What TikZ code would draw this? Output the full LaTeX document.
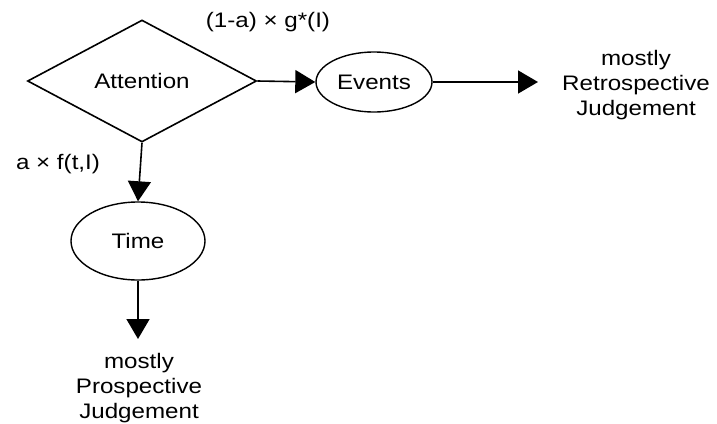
\documentclass[tikz,border=0pt]{standalone}
\usepackage{fontspec}
\setmainfont{Liberation Sans}[FakeStretch=1.15]
\usetikzlibrary{shapes.geometric,arrows.meta}
\begin{document}
\begin{tikzpicture}[x=1pt,y=-1pt,
  every node/.style={font=\fontsize{21}{25}\selectfont, inner sep=0pt},
  flow/.style={line width=1.6pt, -{Triangle[length=20pt,width=23pt]}},
  oval/.style={ellipse, draw, line width=1.4pt},
  decision/.style={diamond, draw, line width=1.6pt},
  result/.style={align=center}]
\useasboundingbox (0,0) rectangle (717,423);

% decision and the two process ovals
\node[decision, minimum width=229pt, minimum height=122pt] (att) at (142,81) {Attention};
\node[oval, minimum width=116pt, minimum height=60pt] (ev) at (374,82) {Events};
\node[oval, minimum width=134pt, minimum height=78pt] (time) at (138,241) {Time};

% outcomes
\coordinate (rtip) at (538,82);
\coordinate (ptip) at (138,339);
\node[result] (retro) at (636,85) {mostly\\Retrospective\\Judgement};
\node[result] (prosp) at (139,388) {mostly\\Prospective\\Judgement};

% weights on the branches
\node (wev) at (268,22) {(1-a) × g*(I)};
\node (wtime) at (58,164) {a × f(t,I)};

% connectors
\draw[flow] (att.east) -- (ev.west);
\draw[flow] (att.south) -- (time.north);
\draw[flow] (ev.east) -- (rtip);
\draw[flow] (time.south) -- (ptip);
\end{tikzpicture}
\end{document}
